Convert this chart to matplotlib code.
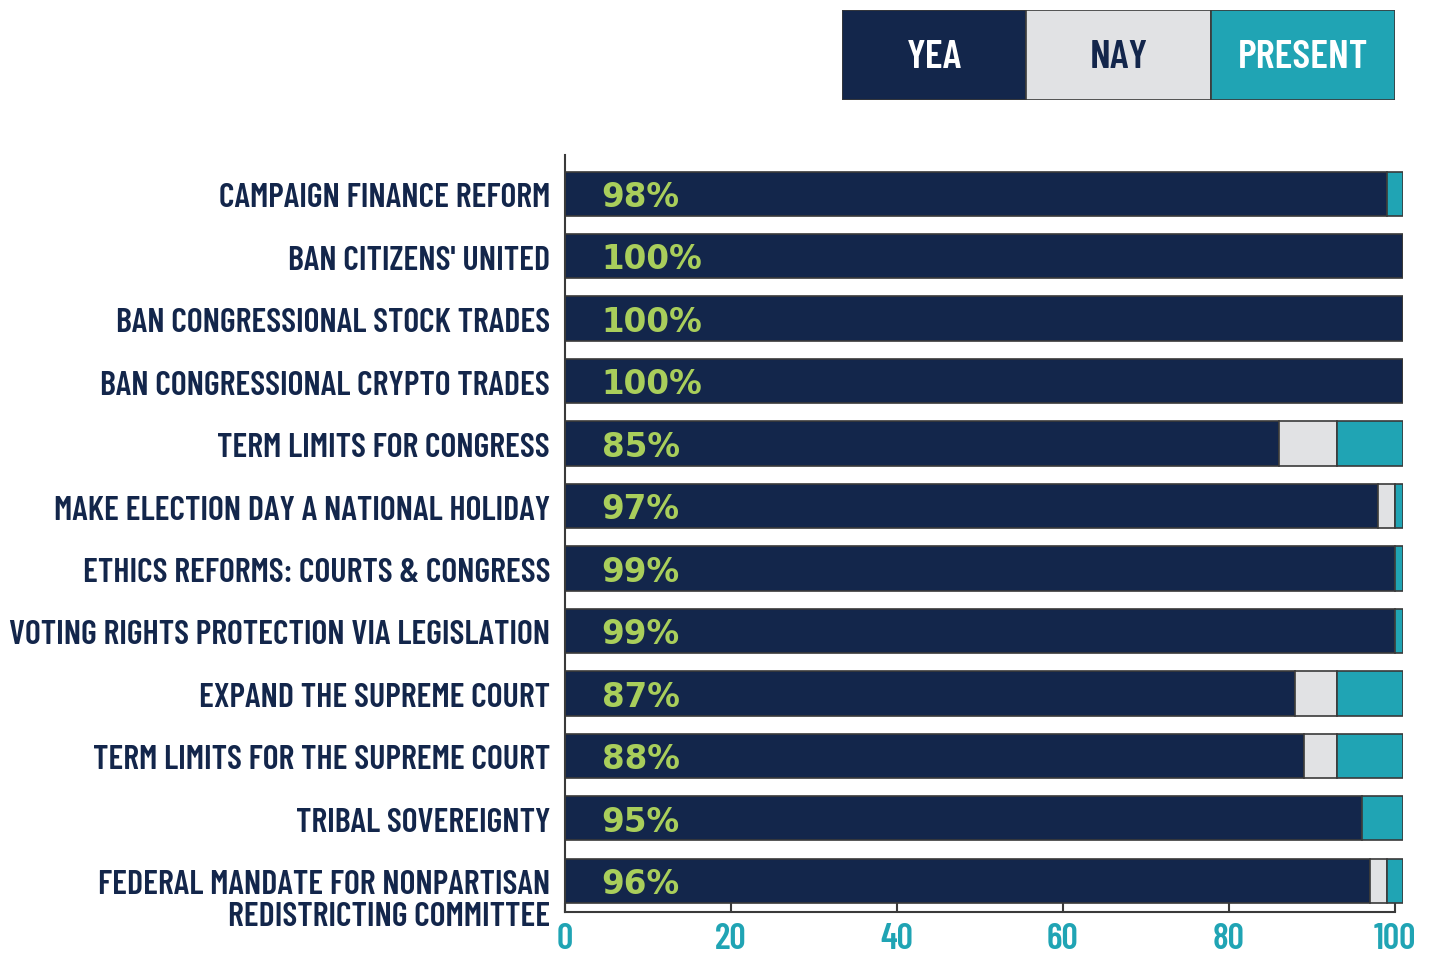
import numpy as np
import matplotlib
matplotlib.use('Agg')
import matplotlib.pyplot as plt

# categories top to bottom
categories = [
    "CAMPAIGN FINANCE REFORM",
    "BAN CITIZENS' UNITED",
    "BAN CONGRESSIONAL STOCK TRADES",
    "BAN CONGRESSIONAL CRYPTO TRADES",
    "TERM LIMITS FOR CONGRESS",
    "MAKE ELECTION DAY A NATIONAL HOLIDAY",
    "ETHICS REFORMS: COURTS & CONGRESS",
    "VOTING RIGHTS PROTECTION VIA LEGISLATION",
    "EXPAND THE SUPREME COURT",
    "TERM LIMITS FOR THE SUPREME COURT",
    "TRIBAL SOVEREIGNTY",
    "FEDERAL MANDATE FOR NONPARTISAN\nREDISTRICTING COMMITTEE",
]
yea = [99, 101, 101, 101, 86, 98, 100, 100, 88, 89, 96, 97]
nay = [0, 0, 0, 0, 7, 2, 0, 0, 5, 4, 0, 2]
present = [2, 0, 0, 0, 8, 1, 1, 1, 8, 8, 5, 2]
yea_labels = ["98%", "100%", "100%", "100%", "85%", "97%", "99%", "99%",
              "87%", "88%", "95%", "96%"]
x_ticks = [0, 20, 40, 60, 80, 100]
legend_labels = ["YEA", "NAY", "PRESENT"]

NAVY = '#13264B'
GRAY = '#E1E2E4'
TEAL = '#20A4B4'
GREEN = '#A9CE5B'
EDGE = '#3a3a3a'
COND = ['Barlow Condensed', 'DejaVu Sans']

fig = plt.figure(figsize=(14.33, 9.55), dpi=100)
ax = fig.add_axes([565 / 1433, 1 - 912 / 955, (1403.3 - 565) / 1433, (912 - 155) / 955])

y = np.arange(len(categories))
yea = np.array(yea)
nay = np.array(nay)
present = np.array(present)
h = 0.71
ax.barh(y, yea, height=h, color=NAVY, edgecolor=EDGE, linewidth=1.2)
ax.barh(y, nay, left=yea, height=h, color=GRAY, edgecolor=EDGE, linewidth=1.2)
ax.barh(y, present, left=yea + nay, height=h, color=TEAL, edgecolor=EDGE, linewidth=1.2)

# yea share printed inside each bar
for i, lab in enumerate(yea_labels):
    ax.text(4.4, i + 0.06, lab, color=GREEN, fontsize=23.5, fontweight='bold',
            family='DejaVu Sans', ha='left', va='center')

for i, cat in enumerate(categories):
    off = 0.33 if '\n' in cat else 0.08
    ax.text(-1.8, i + off, cat, color=NAVY, fontsize=24.5, fontweight=600,
            family=COND, ha='right', va='center', linespacing=1.05)

ax.set_xlim(0, 101)
ax.set_ylim(len(categories) - 0.5, -0.62)
ax.set_yticks([])
ax.set_xticks(x_ticks)
ax.set_xticklabels([str(t) for t in x_ticks])
ax.tick_params(axis='x', direction='in', length=6.5, width=1.5, color=EDGE,
               labelcolor=TEAL, labelsize=26, pad=8)
for t in ax.get_xticklabels():
    t.set_family(COND)
    t.set_fontweight(600)
for s in ['top', 'right']:
    ax.spines[s].set_visible(False)
ax.spines['bottom'].set_bounds(0, 100)
for s in ['left', 'bottom']:
    ax.spines[s].set_color(EDGE)
    ax.spines[s].set_linewidth(1.5)

# legend boxes at top
lax = fig.add_axes([842 / 1433, 1 - 100 / 955, (1395 - 842) / 1433, 90 / 955])
leg_colors = [NAVY, GRAY, TEAL]
leg_text = ['white', NAVY, 'white']
for k, lab in enumerate(legend_labels):
    lax.barh(0, 1, left=k, height=1, color=leg_colors[k], edgecolor=EDGE, linewidth=1.2)
    lax.text(k + 0.5, -0.03, lab, color=leg_text[k], fontsize=29.5, fontweight=600,
             family=COND, ha='center', va='center')
lax.set_xlim(0, 3)
lax.set_ylim(-0.5, 0.5)
lax.axis('off')

fig.savefig('out.png', dpi=100)
